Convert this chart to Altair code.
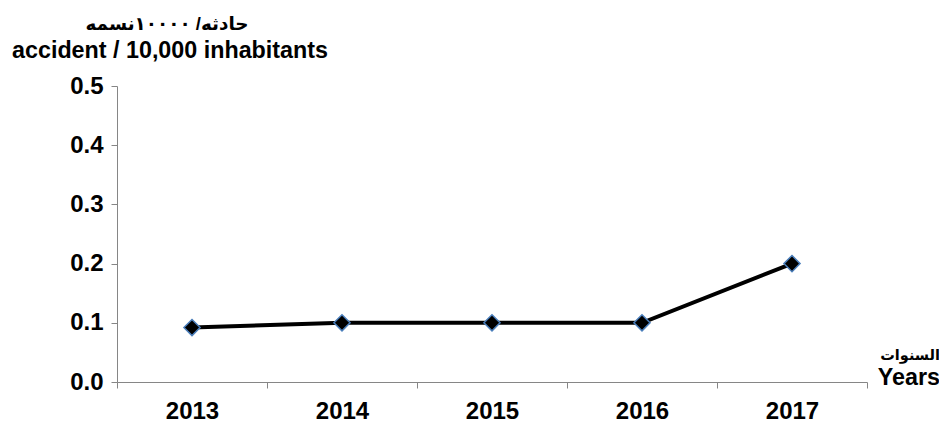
import altair as alt
import pandas as pd

years = ["2013", "2014", "2015", "2016", "2017"]
values = [0.092, 0.1, 0.1, 0.1, 0.2]
y_ticks = [0.0, 0.1, 0.2, 0.3, 0.4, 0.5]

y_title_ar = "حادثه/ ١٠٠٠٠نسمه"
y_title_en = "accident / 10,000 inhabitants"
x_title_ar = "السنوات"
x_title_en = "Years"

df = pd.DataFrame({"year": years, "value": values})

FONT = "Liberation Sans, DejaVu Sans, Arial, sans-serif"
AXIS_COLOR = "#868686"

x_enc = alt.X(
    "year:O",
    bandPosition=0.5,
    scale=alt.Scale(type="band", paddingInner=0, paddingOuter=0),
    axis=alt.Axis(
        title=None, labelAngle=0, tickBand="extent", tickSize=6,
        labelPadding=11, domainColor=AXIS_COLOR, tickColor=AXIS_COLOR,
    ),
)
y_enc = alt.Y(
    "value:Q",
    scale=alt.Scale(domain=[0, 0.5], nice=False),
    axis=alt.Axis(
        title=None, values=y_ticks, format=".1f", tickSize=6, labelPadding=8,
        domainColor=AXIS_COLOR, tickColor=AXIS_COLOR, grid=False,
    ),
)

base = alt.Chart(df)
line = base.mark_line(color="black", strokeWidth=4).encode(x=x_enc, y=y_enc)
pts = base.mark_point(
    shape="diamond", filled=True, fill="black", stroke="#4a7ebb",
    strokeWidth=1.5, size=260, opacity=1,
).encode(x=x_enc, y=y_enc)


def label(txt, x, y, size, align="center"):
    return alt.Chart(pd.DataFrame({"t": [txt]})).mark_text(
        font=FONT, fontWeight="bold", fontSize=size, color="black",
        align=align, baseline="alphabetic",
    ).encode(text="t:N", x=alt.value(x), y=alt.value(y))


t1 = label(y_title_ar, 50, -56, 18.4)
t2 = label(y_title_en, 53, -28, 23.3)
t3 = label(x_title_ar, 823, 274, 14.5, align="right")
t4 = label(x_title_en, 823, 299, 23.3, align="right")

chart = alt.layer(line, pts, t1, t2, t3, t4).properties(
    width=750, height=296,
    autosize=alt.AutoSizeParams(type="none"),
    padding={"left": 109, "top": 78, "right": 72, "bottom": 40},
).configure_view(stroke=None).configure_axis(
    labelFont=FONT, labelFontWeight="bold", labelFontSize=24, labelColor="black",
)

chart.save("out.html", embed_options={"renderer": "svg", "actions": False})
